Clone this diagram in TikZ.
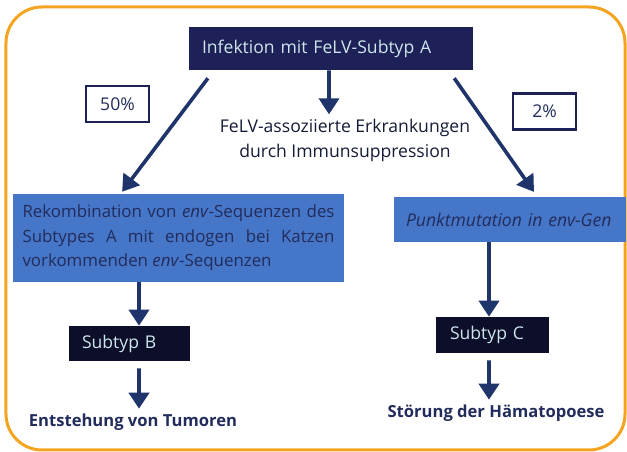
\documentclass[tikz,border=0pt]{standalone}
\usepackage{fontspec}
\setmainfont{Open Sans}
\usetikzlibrary{arrows.meta}
\definecolor{framecol}{RGB}{244,164,32}
\definecolor{navybox}{RGB}{30,32,88}
\definecolor{darkbox}{RGB}{12,14,42}
\definecolor{bluebox}{RGB}{70,118,200}
\definecolor{arrowcol}{RGB}{32,52,108}
\definecolor{lighttext}{RGB}{205,230,236}
\definecolor{darktext}{RGB}{34,44,92}
\begin{document}
\begin{tikzpicture}[every node/.style={font=\fontsize{12.5}{17.5}\selectfont},
  box/.style={inner sep=0pt,minimum height=0.9cm,align=center},
  darkbox/.style={box,fill=darkbox,text=lighttext,align=left},
  bluebox/.style={box,fill=bluebox,text=darktext},
  pctbox/.style={box,draw=navybox,line width=0.06cm,fill=white,text=darktext,minimum width=1.575cm},
  arr/.style={-{Triangle[width=0.5cm,length=0.4cm]},line width=0.09cm,draw=arrowcol}]
\useasboundingbox (0,0) rectangle (15.675,11.3);
\draw[framecol,line width=0.075cm,rounded corners=0.9cm] (0.15,0.05) rectangle (15.625,11.125);
% top
\node[box,fill=navybox,text=lighttext,text width=6.45cm,align=left,minimum width=7.1cm,minimum height=1.075cm] (infekt) at (8.275,10.0875) {Infektion mit FeLV-Subtyp A};
\node[pctbox] (fifty) at (2.9375,8.7) {50\%};
\node[pctbox] (two) at (13.6125,8.5125) {2\%};
\node[text=darktext!60!black,align=center] (immun) at (8.625,7.79) {FeLV-assoziierte Erkrankungen\\durch Immunsuppression};
% middle row
\node[bluebox,text width=7.8cm,minimum width=8.275cm,minimum height=2.2cm,align=justify,font=\fontsize{12}{17.5}\selectfont] (rekomb) at (4.4625,5.35)
  {Rekombination von \textit{env}-Sequenzen des\linebreak Subtypes A mit endogen bei Katzen\linebreak vorkommenden \textit{env}-Sequenzen};
\node[bluebox,text width=5.2cm,align=left,minimum width=5.8cm,minimum height=1.125cm] (punkt) at (12.75,5.8125) {\textit{Punktmutation in env-Gen}};
\draw[arr] ([xshift=0.48cm,yshift=-0.2cm]infekt.south west) -- ([xshift=-1.41cm,yshift=0.05cm]rekomb.north);
\draw[arr] ([xshift=-0.05cm]infekt.south) -- ([xshift=-0.4cm]immun.north);
\draw[arr] ([xshift=-0.475cm,yshift=-0.2cm]infekt.south east) -- ([xshift=0.6cm,yshift=0.12cm]punkt.north);
% subtypes
\node[darkbox,text width=2.375cm,minimum width=3.025cm,minimum height=0.875cm] (subB) at (3.2375,2.7125) {Subtyp B};
\node[darkbox,text width=2.125cm,minimum width=2.825cm] (subC) at (12.3125,2.925) {Subtyp C};
\node[text=darktext,font=\fontsize{11.8}{17}\selectfont\bfseries] (tumor) at (3.325,0.75) {Entstehung von Tumoren};
\node[text=darktext,font=\fontsize{11.8}{17}\selectfont\bfseries] (haema) at (12.4,0.975) {Störung der Hämatopoese};
\draw[arr] ([xshift=0.2375cm]subB.north |- rekomb.south) -- ([xshift=0.2375cm]subB.north);
\draw[arr] ([xshift=0.2375cm,yshift=-0.18cm]subB.south) -- ([xshift=0.15cm]tumor.north);
\draw[arr] ([xshift=-0.0875cm]subC.north |- punkt.south) -- ([xshift=-0.0875cm]subC.north);
\draw[arr] ([xshift=-0.0875cm,yshift=-0.18cm]subC.south) -- ([xshift=-0.175cm]haema.north);
\end{tikzpicture}
\end{document}
